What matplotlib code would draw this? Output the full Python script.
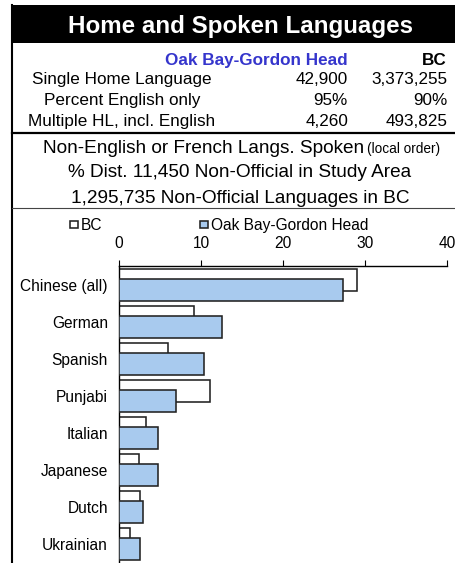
import numpy as np
import matplotlib
matplotlib.use('Agg')
import matplotlib.pyplot as plt
from matplotlib.patches import Rectangle
from matplotlib.lines import Line2D

plt.rcParams['font.family'] = ['Liberation Sans', 'DejaVu Sans']

W, H = 455, 563

# header table values
row_labels = ['Single Home Language', 'Percent English only', 'Multiple HL, incl. English']
area_values = ['42,900', '95%', '4,260']
bc_values = ['3,373,255', '90%', '493,825']

# chart data (percent distribution of non-official languages)
languages = ['Chinese (all)', 'German', 'Spanish', 'Punjabi', 'Italian',
             'Japanese', 'Dutch', 'Ukrainian']
bc_pct = [29.0, 9.2, 6.0, 11.1, 3.3, 2.4, 2.5, 1.3]
area_pct = [27.3, 12.6, 10.4, 6.9, 4.8, 4.7, 2.9, 2.6]


def fx(x):
    return x / W


def fy(y):
    return 1 - y / H


fig = plt.figure(figsize=(W / 100, H / 100), dpi=100)

# black title band and frame lines
fig.patches.append(Rectangle((fx(11), fy(43)), fx(455) - fx(11), fy(5) - fy(43),
                             transform=fig.transFigure, facecolor='black',
                             edgecolor='none'))
fig.lines.append(Line2D([fx(12), fx(12)], [fy(5), fy(563)], transform=fig.transFigure,
                        color='black', lw=1.5))
fig.lines.append(Line2D([fx(12), fx(455)], [fy(133), fy(133)], transform=fig.transFigure,
                        color='black', lw=1.6))
fig.lines.append(Line2D([fx(12), fx(455)], [fy(208), fy(208)], transform=fig.transFigure,
                        color='#444444', lw=0.8))

fig.text(fx(240), fy(33), 'Home and Spoken Languages', color='white', fontsize=17.4,
         fontweight='bold', ha='center', va='baseline')

fig.text(fx(348), fy(65), 'Oak Bay-Gordon Head', color='#3535cc', fontsize=12.3,
         fontweight='bold', ha='right', va='baseline')
fig.text(fx(447), fy(65), 'BC', color='black', fontsize=12.3,
         fontweight='bold', ha='right', va='baseline')
for i, lab in enumerate(row_labels):
    yb = 84 + i * 21
    fig.text(fx(122), fy(yb), lab, fontsize=12.3, ha='center', va='baseline')
    fig.text(fx(348), fy(yb), area_values[i], fontsize=12.3, ha='right', va='baseline')
    fig.text(fx(447), fy(yb), bc_values[i], fontsize=12.3, ha='right', va='baseline')

fig.text(fx(364), fy(153), 'Non-English or French Langs. Spoken', fontsize=13.7,
         ha='right', va='baseline')
fig.text(fx(367), fy(153), '(local order)', fontsize=9.8, ha='left', va='baseline')
fig.text(fx(240), fy(177), '% Dist. 11,450 Non-Official in Study Area', fontsize=13.7,
         ha='center', va='baseline')
fig.text(fx(240), fy(203), '1,295,735 Non-Official Languages in BC', fontsize=13.7,
         ha='center', va='baseline')

# bar chart
ax = fig.add_axes([fx(119), 0, fx(447) - fx(119), fy(266)])
pos = np.arange(len(languages))
b1 = ax.barh(pos + 0.38, bc_pct, height=0.58, color='white', edgecolor='#222222',
             lw=1.15, label='BC', zorder=2)
b2 = ax.barh(pos + 0.65, area_pct, height=0.58, color='#a8caee', edgecolor='#222222',
             lw=1.15, label='Oak Bay-Gordon Head', zorder=3)
ax.set_xlim(0, 40)
ax.set_ylim((H - 266) / 37, 0)
ax.set_xticks([0, 10, 20, 30, 40])
ax.set_yticks(pos + 0.52)
ax.set_yticklabels(languages)
ax.xaxis.tick_top()
ax.tick_params(axis='x', length=4.5, width=0.8, pad=6.5, labelsize=11.2, direction='out')
ax.tick_params(axis='y', length=0, pad=8, labelsize=11.2)
ax.spines['right'].set_visible(False)
ax.spines['bottom'].set_visible(False)
ax.spines['top'].set_linewidth(1.0)
ax.spines['left'].set_linewidth(1.0)

leg = fig.legend(handles=[b1, b2], loc='lower left', bbox_to_anchor=(fx(70), fy(233)),
                 bbox_transform=fig.transFigure, ncol=2, frameon=False, fontsize=11.2,
                 handlelength=0.5, handleheight=0.35, handletextpad=0.2,
                 columnspacing=6.3, borderpad=0, borderaxespad=0)

fig.savefig('out.png', dpi=100)
